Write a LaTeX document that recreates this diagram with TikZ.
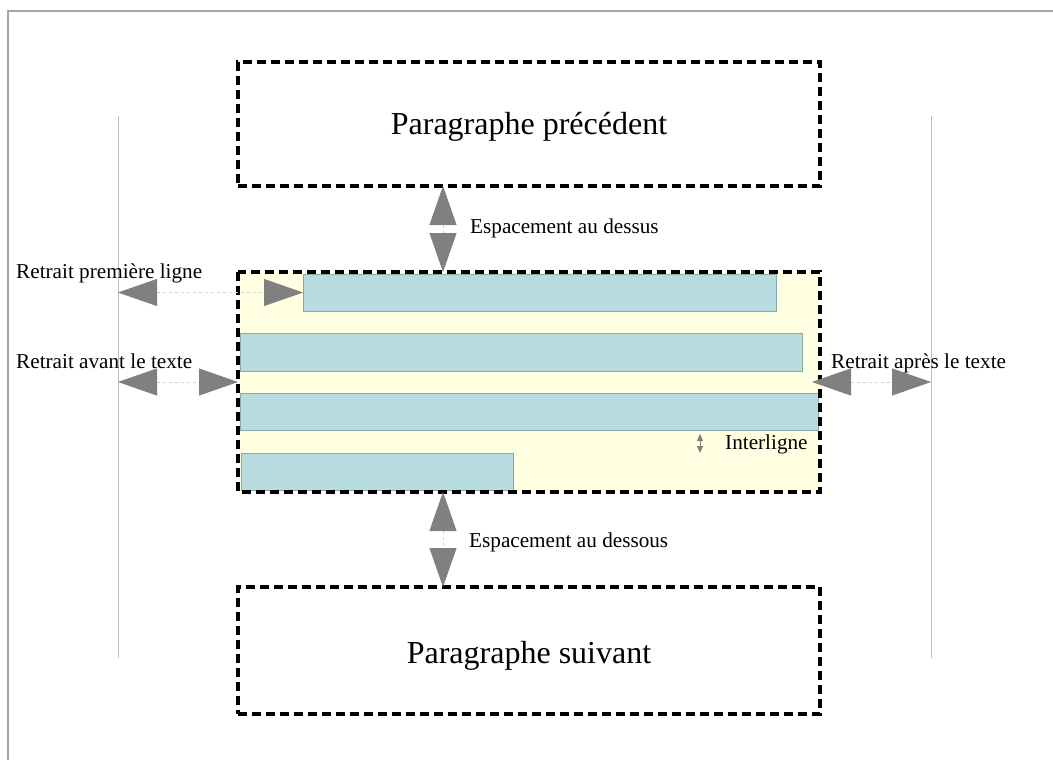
\documentclass[tikz,border=0pt]{standalone}
\usepackage{fontspec}
\setmainfont{Liberation Serif}
\definecolor{framegray}{RGB}{166, 166, 166}
\definecolor{guidegray}{RGB}{190, 190, 190}
\definecolor{arrowgray}{RGB}{128, 128, 128}
\definecolor{dashgray}{RGB}{210, 210, 210}
\definecolor{paryellow}{RGB}{255, 255, 226}
\definecolor{barblue}{RGB}{184, 219, 224}
\definecolor{barline}{RGB}{140, 168, 166}
\usetikzlibrary{arrows.meta, positioning, calc}

\begin{document}
\begin{tikzpicture}[x=1pt, y=-1pt,
    parbox/.style={minimum width=582pt, inner sep=0pt, outer sep=0pt},
    parborder/.style={line width=3.5pt, dash pattern=on 9pt off 5pt},
    bar/.style={draw=barline, fill=barblue, line width=0.6pt, anchor=north west, inner sep=0pt, outer sep=0pt, minimum height=37pt},
    guide/.style={guidegray, line width=1pt},
    spacing/.style={dashgray, dashed, line width=0.8pt,
      {Triangle[length=39pt, width=27pt, color=arrowgray]}-{Triangle[length=39pt, width=27pt, color=arrowgray]}},
    lbl/.style={font=\fontsize{21.2}{25}\selectfont, anchor=base west, inner sep=0pt},
    title/.style={font=\fontsize{32}{38}\selectfont, anchor=base, inner sep=0pt}]
  \useasboundingbox (0,0) rectangle (1053,760);
  \draw[framegray, line width=1.2pt] (1053,11) -- (8,11) -- (8,760);

  % guides for the indents
  \coordinate (guideL) at (118,116);
  \coordinate (guideL2) at (118,658);
  \coordinate (guideR) at (931,116);
  \coordinate (guideR2) at (931,658);
  \draw[guide] (guideL) -- (guideL2);
  \draw[guide] (guideR) -- (guideR2);

  % paragraphs
  \node[parbox, minimum height=124pt, draw, parborder] (prev) at (529,124) {};
  \node[title] (prevtext) at (529,135) {Paragraphe précédent};

  \node[parbox, minimum height=220pt, fill=paryellow] (mid) at (529,382) {};
  \node[bar, minimum width=473pt] (bar1) at (303,274) {};
  \node[bar, minimum width=562pt, minimum height=38pt] (bar2) at (240,333) {};
  \node[bar, minimum width=578pt] (bar3) at (240,393) {};
  \node[bar, minimum width=272pt] (bar4) at (241,453) {};
  \draw[parborder] (mid.north west) rectangle (mid.south east);

  \node[parbox, minimum height=127pt, draw, parborder] (next) at (529,650.5) {};
  \node[title] (nexttext) at (529,663) {Paragraphe suivant};

  % spacings
  \coordinate (sp) at (443,0);
  \draw[spacing] (prev.south -| sp) -- (mid.north -| sp);
  \draw[spacing] (mid.south -| sp) -- (next.north -| sp);
  \node[lbl] (above) at (470,233) {Espacement au dessus};
  \node[lbl] (below) at (469,547) {Espacement au dessous};

  % indents
  \draw[spacing] (guideL |- bar1.west) -- (bar1.west);
  \node[lbl] (first) at (16,278) {Retrait première ligne};
  \draw[spacing] (guideL |- mid.west) -- (mid.west);
  \node[lbl] (before) at (16,368) {Retrait avant le texte};
  \draw[spacing] ([xshift=-8pt]mid.east) -- (guideR |- mid.east);
  \node[lbl] (after) at (831,368) {Retrait après le texte};

  % line spacing
  \coordinate (il1) at (700,434);
  \coordinate (il2) at (700,453);
  \draw[arrowgray, line width=0.8pt, {Triangle[length=7pt, width=6pt]}-{Triangle[length=7pt, width=6pt]}] (il1) -- (il2);
  \node[lbl] (interligne) at (725,449) {Interligne};
\end{tikzpicture}
\end{document}
